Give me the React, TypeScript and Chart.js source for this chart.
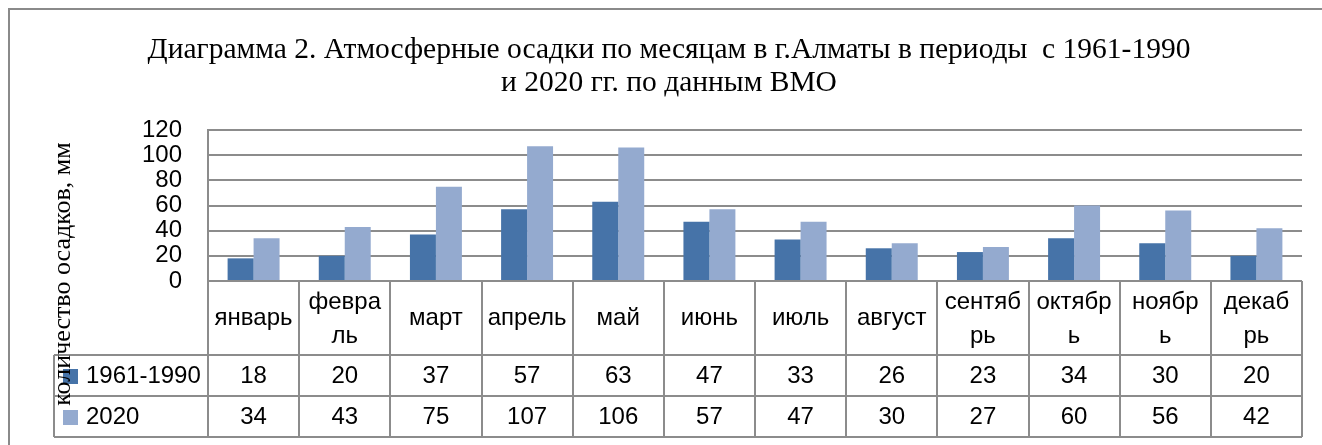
import React, { useEffect, useRef } from "react";
import { Chart, registerables } from "chart.js";

Chart.register(...registerables);

const titleLines = [
  "Диаграмма 2. Атмосферные осадки по месяцам в г.Алматы в периоды  с 1961-1990",
  "и 2020 гг. по данным ВМО",
];
const yAxisTitle = "количество осадков, мм";
const categoryLines: string[][] = [
  ["январь"],
  ["февра", "ль"],
  ["март"],
  ["апрель"],
  ["май"],
  ["июнь"],
  ["июль"],
  ["август"],
  ["сентяб", "рь"],
  ["октябр", "ь"],
  ["ноябр", "ь"],
  ["декаб", "рь"],
];
const seriesNames = ["1961-1990", "2020"];
const values1961 = [18, 20, 37, 57, 63, 47, 33, 26, 23, 34, 30, 20];
const values2020 = [34, 43, 75, 107, 106, 57, 47, 30, 27, 60, 56, 42];
const yMin = 0;
const yMax = 120;
const yStep = 20;

const COLORS = ["#4673A8", "#94AACF"];
const GRID = "#8c8c8c";
const SANS = "'Liberation Sans', Arial, sans-serif";
const SERIF = "'Liberation Serif', 'Times New Roman', serif";

const tablePlugin = {
  id: "excelTable",
  beforeDraw(chart: any) {
    const ctx = chart.ctx;
    ctx.save();
    ctx.fillStyle = "#fff";
    ctx.fillRect(0, 0, chart.width, chart.height);
    ctx.strokeStyle = "#8a8a8a";
    ctx.lineWidth = 2;
    ctx.beginPath();
    ctx.moveTo(9, chart.height + 5);
    ctx.lineTo(9, 9);
    ctx.lineTo(chart.width + 5, 9);
    ctx.stroke();
    ctx.restore();
  },
  afterDraw(chart: any) {
    const ctx = chart.ctx;
    const xs = chart.scales.x;
    const area = chart.chartArea;
    const colW = xs.getPixelForValue(1) - xs.getPixelForValue(0);
    const y0 = area.bottom;
    const headerH = 74;
    const rowH = 41;
    const legendLeft = 54;
    const yBottom = y0 + headerH + rowH * 2;

    ctx.save();
    // title
    ctx.fillStyle = "#000";
    ctx.font = `29.5px ${SERIF}`;
    ctx.textAlign = "center";
    ctx.textBaseline = "alphabetic";
    ctx.fillText(titleLines[0], 669, 58);
    ctx.fillText(titleLines[1], 669, 91);

    // table lines
    ctx.strokeStyle = GRID;
    ctx.lineWidth = 2;
    ctx.beginPath();
    ctx.moveTo(area.left, y0);
    ctx.lineTo(area.right, y0);
    [y0 + headerH, y0 + headerH + rowH, yBottom].forEach((y) => {
      ctx.moveTo(legendLeft, y);
      ctx.lineTo(area.right, y);
    });
    for (let i = 0; i <= categoryLines.length; i++) {
      const x = Math.round(xs.getPixelForValue(i) - colW / 2);
      ctx.moveTo(x, y0);
      ctx.lineTo(x, yBottom);
    }
    ctx.moveTo(legendLeft, y0 + headerH);
    ctx.lineTo(legendLeft, yBottom);
    ctx.stroke();

    // header labels
    ctx.fillStyle = "#000";
    ctx.font = `24px ${SANS}`;
    ctx.textAlign = "center";
    ctx.textBaseline = "middle";
    const hc = y0 + headerH / 2;
    categoryLines.forEach((lines, i) => {
      const x = xs.getPixelForValue(i);
      if (lines.length === 1) {
        ctx.fillText(lines[0], x, hc);
      } else {
        ctx.fillText(lines[0], x, hc - 16);
        ctx.fillText(lines[1], x, hc + 18);
      }
    });

    // values
    const rows = [values1961, values2020];
    rows.forEach((vals, r) => {
      const cy = y0 + headerH + rowH * r + rowH / 2 + 1;
      vals.forEach((v, i) => {
        ctx.fillText(String(v), xs.getPixelForValue(i), cy);
      });
      // legend
      ctx.fillStyle = COLORS[r];
      ctx.fillRect(63, Math.round(cy - 8), 15, 15);
      ctx.fillStyle = "#000";
      ctx.textAlign = "left";
      ctx.fillText(seriesNames[r], 86, cy);
      ctx.textAlign = "center";
    });

    // y axis title
    ctx.save();
    ctx.translate(63, 274);
    ctx.rotate(-Math.PI / 2);
    ctx.font = `26px ${SERIF}`;
    ctx.textAlign = "center";
    ctx.textBaseline = "middle";
    ctx.fillText(yAxisTitle, 0, 0);
    ctx.restore();

    ctx.restore();
  },
};

export default function App() {
  const ref = useRef<HTMLCanvasElement | null>(null);
  useEffect(() => {
    if (!ref.current) return;
    const chart = new Chart(ref.current, {
      type: "bar",
      data: {
        labels: categoryLines.map((l) => l.join("")),
        datasets: [
          {
            label: seriesNames[0],
            data: values1961,
            backgroundColor: COLORS[0],
            categoryPercentage: 0.57,
            barPercentage: 1,
          },
          {
            label: seriesNames[1],
            data: values2020,
            backgroundColor: COLORS[1],
            categoryPercentage: 0.57,
            barPercentage: 1,
          },
        ],
      },
      options: {
        responsive: false,
        animation: false,
        devicePixelRatio: 1,
        layout: { padding: { left: 0, right: 20, top: 130, bottom: 164 } },
        plugins: {
          legend: { display: false },
          title: { display: false },
          tooltip: { enabled: false },
        },
        scales: {
          x: { display: false },
          y: {
            min: yMin,
            max: yMax,
            ticks: {
              stepSize: yStep,
              autoSkip: false,
              padding: 26,
              color: "#000",
              font: { family: SANS, size: 24 },
            },
            grid: { color: GRID, lineWidth: 2, drawTicks: false },
            border: { display: true, color: GRID, width: 2 },
            afterFit: (scale: any) => {
              scale.width = 208;
            },
          },
        },
      },
      plugins: [tablePlugin],
    });
    return () => chart.destroy();
  }, []);
  return (
    <div style={{ position: "fixed", left: 0, top: 0, width: 1322, height: 445, background: "#fff" }}>
      <canvas ref={ref} width={1322} height={445} style={{ display: "block" }} />
    </div>
  );
}
